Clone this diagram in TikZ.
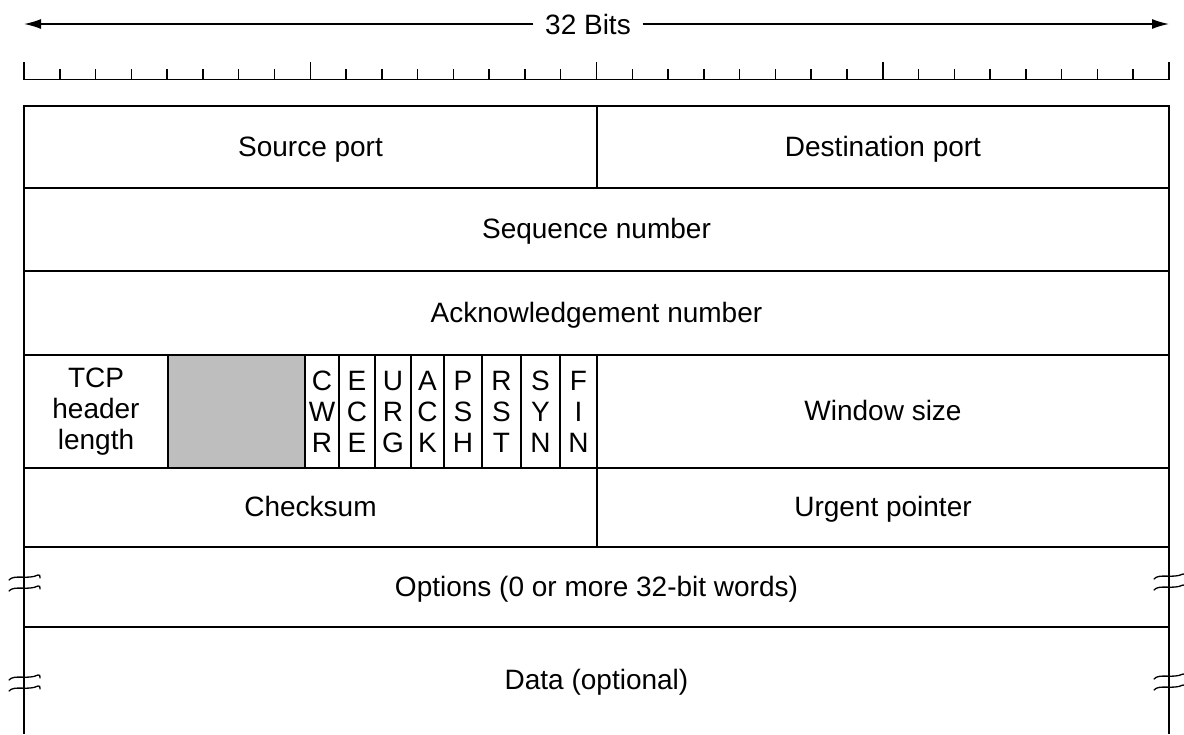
\documentclass[tikz,border=0pt]{standalone}
\usepackage{fontspec}
\setmainfont{Liberation Sans}
\usetikzlibrary{arrows.meta}
\newcommand\fieldfont{\fontsize{28}{31}\selectfont}
% a pair of small tilde marks across a vertical edge: x, y of the upper mark
\newcommand\breakmark[2]{%
  \foreach \dy in {0,11}{%
    \draw[breakline] (#1-15,#2+\dy+3) .. controls (#1-10,#2+\dy-3) and (#1+4,#2+\dy+3) .. (#1+14,#2+\dy-2)
      .. controls (#1+16,#2+\dy-2) .. (#1+16,#2+\dy+1);}}
\tikzset{
  stackfield/.style={draw, inner sep=0pt, outer sep=0pt, align=center,
                font=\fieldfont, anchor=north west},
  field/.style={stackfield, text height=22pt, text depth=4pt},
  breakline/.style={line width=1.3pt, line cap=round},
  arrowtip/.style={-{Latex[length=17pt,width=10pt]}},
}
\begin{document}
\begin{tikzpicture}[x=1pt, y=-1pt, line width=1.5pt]
\useasboundingbox (0,0) rectangle (1184,734);

% width arrow
\node[font=\fieldfont, inner xsep=11pt] (bits) at (588,24) {32 Bits};
\coordinate (al) at (24,24);
\coordinate (ar) at (1169,24);
\draw[arrowtip] (bits.west) -- (al);
\draw[arrowtip] (bits.east) -- (ar);

% bit ruler: one tick per bit, a longer one every byte
\draw (24,79.5) -- (1169,79.5);
\foreach \i in {0,...,32}{
  \pgfmathsetmacro\xx{24+\i*35.78125}
  \pgfmathsetmacro\yy{mod(\i,8)==0 ? 62 : 69}
  \draw (\xx,79.5) -- (\xx,\yy);
}

% header words
\node[field, minimum width=573, minimum height=82] (src) at (24,106) {Source port};
\node[field, minimum width=572, minimum height=82] (dst) at (597,106) {Destination port};
\node[field, minimum width=1145, minimum height=83] (seq) at (24,188) {Sequence number};
\node[field, minimum width=1145, minimum height=84] (ack) at (24,271) {Acknowledgement number};

\node[stackfield, minimum width=144, minimum height=113] (hlen) at (24,355) {TCP\\header\\length};
\node[stackfield, fill={rgb,255:red,190;green,190;blue,190}, minimum width=137, minimum height=113] (rsv) at (168,355) {};
\foreach \a/\b/\n/\t in {305/339/cwr/{C\\W\\R}, 339/375/ece/{E\\C\\E}, 375/411/urg/{U\\R\\G},
    411/444/ackf/{A\\C\\K}, 444/482/psh/{P\\S\\H}, 482/521/rst/{R\\S\\T},
    521/560/syn/{S\\Y\\N}, 560/597/fin/{F\\I\\N}}{
  \node[stackfield, minimum width=\b-\a, minimum height=113] (\n) at (\a,355) {\t};
}
\node[field, minimum width=572, minimum height=113] (win) at (597,355) {Window size};

\node[field, minimum width=573, minimum height=79] (csum) at (24,468) {Checksum};
\node[field, minimum width=572, minimum height=79] (urg) at (597,468) {Urgent pointer};
\node[field, minimum width=1145, minimum height=80] (opt) at (24,547) {Options (0 or more 32-bit words)};

% open-ended data area
\node[field, draw=none, minimum width=1145, minimum height=107] (data) at (24,627) {Data (optional)};
\draw (data.north west) -- (data.south west);
\draw (data.north east) -- (data.south east);

% variable-length break marks
\breakmark{24}{577}
\breakmark{24}{677}
\breakmark{1169}{576}
\breakmark{1169}{676}
\end{tikzpicture}
\end{document}
